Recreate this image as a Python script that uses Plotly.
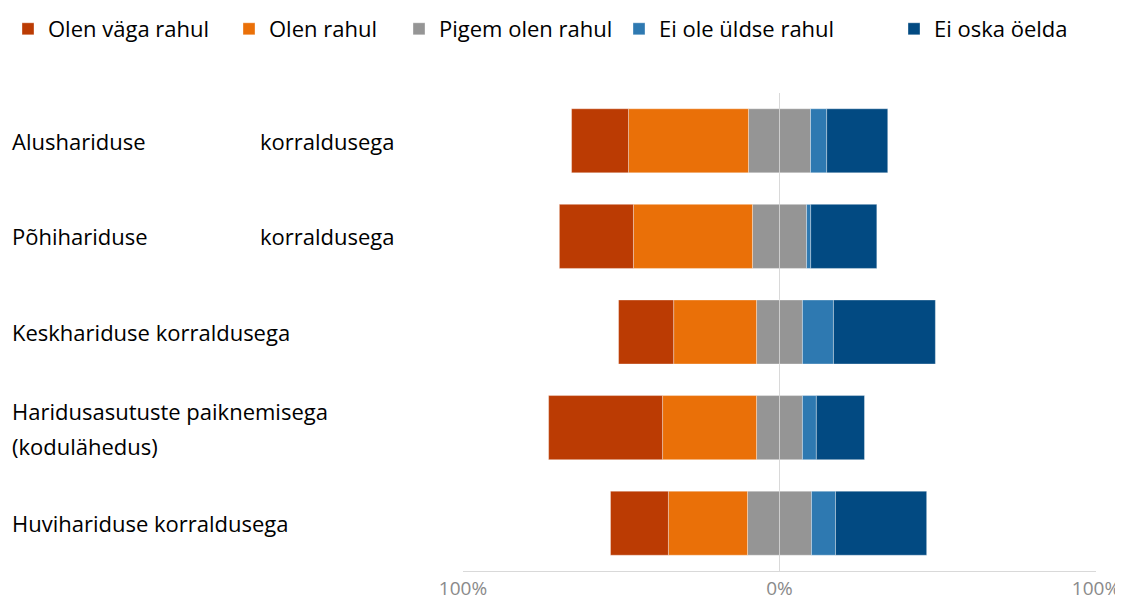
import plotly.graph_objects as go

# Rahulolu hariduse korraldusega (%), loetud jooniselt
categories = ["Alushariduse korraldusega",
              "Põhihariduse korraldusega",
              "Keskhariduse korraldusega",
              "Haridusasutuste paiknemisega (kodulähedus)",
              "Huvihariduse korraldusega"]

olen_vaga_rahul = [18.0, 23.4, 17.4, 36.0, 18.3]
olen_rahul = [37.9, 37.6, 26.2, 29.7, 25.0]
pigem_olen_rahul = [19.6, 17.1, 14.5, 14.5, 20.2]
ei_ole_uldse_rahul = [5.1, 1.3, 9.8, 4.4, 7.6]
ei_oska_oelda = [19.3, 20.9, 32.2, 15.2, 28.8]

tick_vals = [-100, 0, 100]
tick_text = ["100%", "0%", "100%"]

C_RED = "#BB3B03"
C_ORANGE = "#EA7008"
C_GRAY = "#959595"
C_LBLUE = "#2E79B1"
C_DBLUE = "#024A82"

FONT = "Open Sans"
FS = 22

# the page body adds an 8px margin, so the figure is made 8px smaller
OFF = 8
W, H = 1123 - OFF, 600 - OFF

# plot area in page px (for placing labels and legends outside it)
PL, PR, PT, PB = 463, 1096, 93, 571
PW, PH = PR - PL, PB - PT


def px_x(px):
    return (px - PL) / PW


def px_y(py):
    return (PB - py) / PH


line = dict(color="rgba(255,255,255,0.35)", width=1)
fig = go.Figure()

# left side: half of "pigem" + rahul + väga rahul (stacked outward from 0)
fig.add_trace(go.Bar(y=categories, x=[-v / 2 for v in pigem_olen_rahul], orientation="h",
                     name="Pigem olen rahul", marker=dict(color=C_GRAY, line=line),
                     legend="legend3", customdata=pigem_olen_rahul,
                     hovertemplate="%{customdata}%<extra>Pigem olen rahul</extra>"))
fig.add_trace(go.Bar(y=categories, x=[-v for v in olen_rahul], orientation="h",
                     name="Olen rahul", marker=dict(color=C_ORANGE, line=line),
                     legend="legend2", customdata=olen_rahul,
                     hovertemplate="%{customdata}%<extra>Olen rahul</extra>"))
fig.add_trace(go.Bar(y=categories, x=[-v for v in olen_vaga_rahul], orientation="h",
                     name="Olen väga rahul", marker=dict(color=C_RED, line=line),
                     legend="legend", customdata=olen_vaga_rahul,
                     hovertemplate="%{customdata}%<extra>Olen väga rahul</extra>"))
# right side
fig.add_trace(go.Bar(y=categories, x=[v / 2 for v in pigem_olen_rahul], orientation="h",
                     name="Pigem olen rahul", marker=dict(color=C_GRAY, line=line),
                     showlegend=False, customdata=pigem_olen_rahul,
                     hovertemplate="%{customdata}%<extra>Pigem olen rahul</extra>"))
fig.add_trace(go.Bar(y=categories, x=ei_ole_uldse_rahul, orientation="h",
                     name="Ei ole üldse rahul", marker=dict(color=C_LBLUE, line=line),
                     legend="legend4",
                     hovertemplate="%{x}%<extra>Ei ole üldse rahul</extra>"))
fig.add_trace(go.Bar(y=categories, x=ei_oska_oelda, orientation="h",
                     name="Ei oska öelda", marker=dict(color=C_DBLUE, line=line),
                     legend="legend5",
                     hovertemplate="%{x}%<extra>Ei oska öelda</extra>"))

# one legend per entry so the entries sit where the original has them
legend_left = [10, 243, 413, 633, 908]
legend_keys = ["legend", "legend2", "legend3", "legend4", "legend5"]
legends = {}
for key, lx in zip(legend_keys, legend_left):
    legends[key] = dict(x=px_x(max(OFF, lx - 14)), xanchor="left", y=px_y(OFF), yanchor="top",
                        orientation="h", bgcolor="rgba(0,0,0,0)",
                        font=dict(family=FONT, size=FS, color="#000000"))

# category labels, left aligned like in the original
annotations = []
justified = {0: ("Alushariduse", "korraldusega"), 1: ("Põhihariduse", "korraldusega")}
wrapped = {3: ("Haridusasutuste paiknemisega", "(kodulähedus)")}
lab_font = dict(family=FONT, size=FS, color="#000000")
for i, cat in enumerate(categories):
    if i in justified:
        a, b = justified[i]
        annotations.append(dict(text=a, x=px_x(10), xanchor="left", y=cat))
        annotations.append(dict(text=b, x=px_x(397), xanchor="right", y=cat))
    elif i in wrapped:
        a, b = wrapped[i]
        annotations.append(dict(text=a, x=px_x(10), xanchor="left", y=cat, yshift=17))
        annotations.append(dict(text=b, x=px_x(10), xanchor="left", y=cat, yshift=-18))
    else:
        annotations.append(dict(text=cat, x=px_x(10), xanchor="left", y=cat))
for a in annotations:
    a.update(xref="paper", yref="y", yanchor="middle", showarrow=False, font=lab_font)

fig.update_layout(
    width=W, height=H,
    margin=dict(l=PL - OFF, r=1123 - PR, t=PT - OFF, b=600 - PB, autoexpand=False),
    barmode="relative", bargap=0.33,
    plot_bgcolor="white", paper_bgcolor="white",
    font=dict(family=FONT, size=FS),
    annotations=annotations,
    **legends,
)
fig.update_xaxes(range=[-100, 100], tickvals=tick_vals, ticktext=tick_text,
                 showgrid=True, gridcolor="#d9d9d9", gridwidth=1, zeroline=False,
                 showline=True, linecolor="#d9d9d9", linewidth=1,
                 layer="above traces", ticks="", ticklen=0, automargin=False,
                 tickfont=dict(family=FONT, size=19, color="#8a8a8a"))
fig.update_yaxes(categoryorder="array", categoryarray=categories, range=[4.5, -0.5],
                 showticklabels=False, showgrid=False, zeroline=False, showline=False,
                 automargin=False)

fig.write_html("out.html")
